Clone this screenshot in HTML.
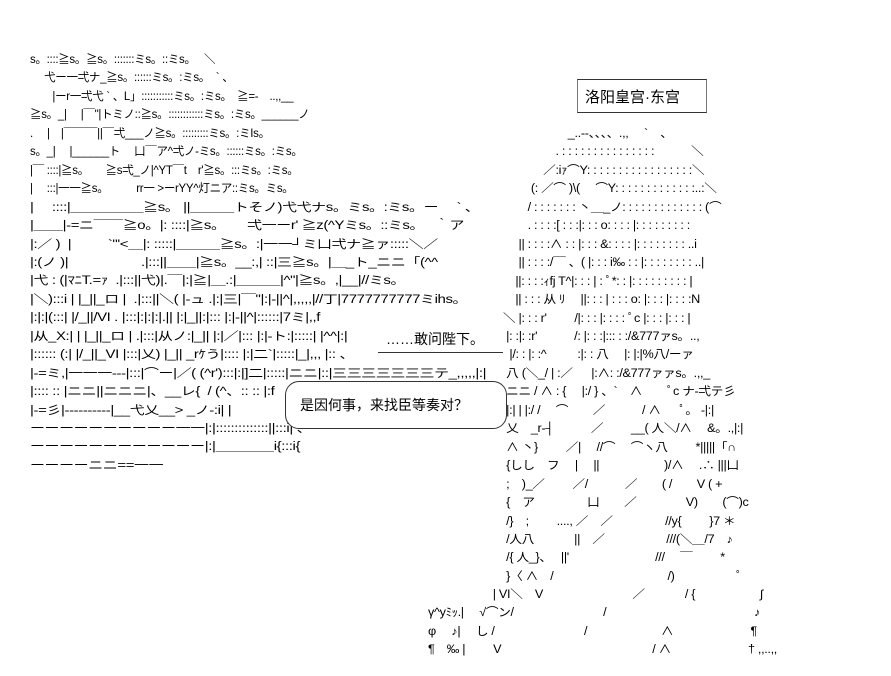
<!DOCTYPE html>
<html><head><meta charset="utf-8">
<style>
html,body{margin:0;padding:0;background:#fff;}
body{width:891px;height:676px;position:relative;overflow:hidden;}
pre{position:absolute;margin:0;font-family:"Liberation Sans","Noto Sans CJK JP",sans-serif;font-size:11.5px;line-height:18.45px;color:#000;white-space:pre;letter-spacing:-0.3px;transform-origin:0 0;}
.box{position:absolute;background:#fff;}
.t{position:absolute;font-family:"Liberation Sans","Noto Sans CJK SC",sans-serif;color:#000;white-space:nowrap;}
</style></head><body>
<pre style="left:30px;top:51px;">s。::::≧s。≧s。:::::::ミs。::ミs。　 ＼
　 弋ー一弌ナ_≧s。::::::ミs。:ミs。  ` 、
　　|ーr一弌弋 ` 、L」:::::::::::ミs。:ミs。　≧=-　..,,__
≧s。_|　 |￣"|トミノ::≧s。::::::::::::ミs。:ミs。______ノ
.　 |　|￣￣￣||￣弌___ノ≧s。:::::::::ミs。:ミIs。
s。_| 　|______ト　 凵￣ア^弌ノ-ミs。::::::ミs。:ミs。
|￣ ::::|≧s。　　≧s弌_ノ|^YT￣t　r'≧s。:::ミs。:ミs。
|　 :::|一一≧s。　　　rr一 >ーrYY^灯ニア::ミs。ミs。</pre>
<pre style="left:30px;top:198.6px;transform:scaleX(1.3);">|　 ::::|＿＿＿＿＿≧s。 ||＿＿＿トそノ)弋弋ナs。ミs。:ミs。ー　 ` 、
|＿＿|-=ニ￣￣≧o。|: ::::|≧s。　　弌一ーr' ≧z(^Yミs。::ミs。　 ｀ア
|:／ )  |　　  `"'<＿|: :::::|＿＿＿≧s。:|一一┘ミ凵弌ナ≧ァ:::::＼／
|:(ノ )|　　　　　.|:::||＿＿|≧s。__:,| ::|三≧s。|＿_ト_ニニ「(^^
|弋 : (|ﾏﾆT.=ｧ  .|:::||弋)|.￣|:|≧|＿.:|＿＿＿|^"|≧s。,|__|//ミs。
|＼):::i | |_||_ロ |  .|:::||＼( |-ュ .|:|三|￣"|:|-||^|,,,,,|//丁|7777777777ミihs。
|:|:|(:::| |/_||/VI . |:::|:|:|:|.|| |:|_||:|::: |:|-||^|::::::|7ミ|,,f
|从_X:| | |_||_ロ | .|:::|从ノ:|_|| |:|／|::: |:|-ト:|:::::| |^^|:|
|:::::: (:| |/_||_VI |:::|乂) |_|| _rｹう|:::: |:|二`|:::::|_|,,, |:: 、
|-=ミ,|一一一---|:::|⌒ー|／( (^r'):::|:|]二|:::::|ニニ|::|三三三三三三三テ_,,,,,|:|
|:::: :: |ニニ||ニニニ|、__レ{  / (^、:: :: |:f
|-=彡|----------|__弋乂__> _ノ-:i| |
ーーーーーーーーーー一一|:|::::::::::::::||:::i| 、
ーーーーーーーーーーーー|:|＿＿＿＿i{:::i{
ーーーーニニ==一一</pre>
<pre style="left:503px;top:125px;transform:scaleX(1.1);">　　　　　 _..--、、、、.,,　 `　、
　　　　 . : : : : : : : : : : : : : : :　　　＼
　　　 ／:iｧ⌒Y: : : : : : : : : : : : : : : : :＼
　　 (: ／⌒ )\(　 ⌒Y: : : : : : : : : : : : :..:＼
　　/ : : : : : : : 丶＿_ノ: : : : : : : : : : : : : (⌒
　　. : : : :[ : : :|: : : o: : : : |: : : : : : : : :
　 || : : : :∧ : : |: : : &: : : : |: : : : : : : : ..i
　 || : : : :/￣ 、( |: : : i‰ : : |: : : : : : : : ..|
　||: : : :ｨfj T^|: : : | : ﾟ*: : |: : : : : : : : : |
　|| : : : 从 ﾘ　 ||: : : | : : : o: |: : : |: : : :N
＼ |: : : r'　　 /|: : : |: : : : ﾟc |: : : |: : : |
 |: :|: :r'　　　/: |: : :|::: : :/&777ァs。..,
  |/: : |: :^　 　 :|: : 八　 |: |:|%八/ーァ
 八 (＼_/ | :／  　|:∧: :/&777ァァs。.,,_
 ニニ / ∧ : {　 |:/ } 、`　∧　　ﾟc ナ-弌テ彡
 |:| | |:/ /　 ⌒　　／　　　/ ∧ 　 ﾟ。 -|:|
 乂　_r-┤　　　／　　 __( 人＼/∧ 　&。.,|:|
 ∧ 丶}　　 ／|　 //⌒　 ⌒ヽ八　　 *|||||「∩
 {しし　フ　 |　 ||　　　　　 )/∧　 .∴ |||凵
 ;　)_／　　 ／/　　　／　　( /　　V ( +
 {　ア　　　 　凵　　／　　　　V)　　(⌒)c
 /}　;　　 ...., ／　／　　　　 //y{　　 }7 ＊
 /人八　　　 ||　／　　　　　///(＼＿/7　♪
 /{ 人_}、　 ||'　　　　　　　///　 ￣　　 *
 }〈 ∧　/　　　　　　　　　 /)　　　　　ﾟ</pre>
<pre style="left:428px;top:586px;transform:scaleX(1.1);">　　　　　 | VI＼　V　　　　　　　 ／　　　 / {　　　　　 ∫
γ^yﾐｯ.|　 √⌒ン/　　　　　　　 /　　　　　　　　　　　　♪
φ　 ♪|　 し /　　　　　　　 /　　　　　　∧　　　　　　 ¶
¶　‰ |　 　V　　　　　　　　　　　　 / ∧　　　　　　 † ,,..,,</pre>
<div class="box" style="left:577px;top:79px;width:128px;height:32px;border-top:1.5px solid #333;border-bottom:1.5px solid #333;border-left:1px solid #777;border-right:1px solid #777;"></div>
<div class="t" style="left:585px;top:86px;font-size:15px;">洛阳皇宫·东宫</div>
<div class="box" style="left:378px;top:330px;width:125px;height:22px;border-bottom:1px solid #333;"></div>
<div class="t" style="left:386px;top:329px;font-size:14px;">……敢问陛下。</div>
<div class="box" style="left:285px;top:381px;width:220px;height:46px;border:1px solid #333;border-radius:14px;"></div>
<div class="t" style="left:300px;top:395px;font-size:14px;">是因何事，来找臣等奏对？</div>
</body></html>
